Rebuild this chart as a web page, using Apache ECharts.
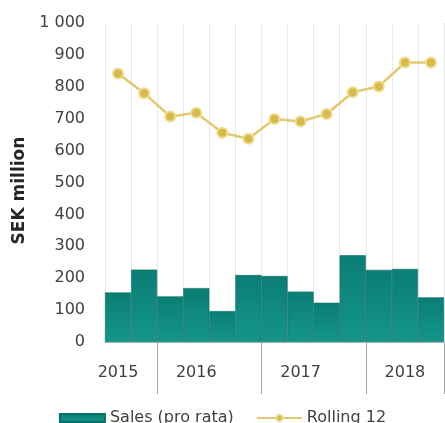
<!DOCTYPE html>
<html><head><meta charset="utf-8">
<script src="https://cdn.jsdelivr.net/npm/echarts@6/dist/echarts.min.js"></script>
<style>html,body{margin:0;padding:0;background:#fff}#c{width:445px;height:423px}</style>
</head><body><div id="c"></div>
<script>
var xTickLabels = ['2015','','','2016','','','','2017','','','','2018',''];
var salesProRata = [155, 227, 143, 169, 97, 210, 207, 158, 123, 272, 226, 229, 140];
var rolling12 = [842, 780, 707, 719, 656, 637, 699, 691, 715, 783, 801, 876, 876];
var yearStartIdx = [2, 6, 10];
var yTicks = {min: 0, max: 1000, interval: 100};

var chart = echarts.init(document.getElementById('c'));
var font = 'DejaVu Sans';
chart.setOption({
  animation: false,
  textStyle: {fontFamily: font},
  grid: {left: 105, right: 1, top: 23, bottom: 81},
  legend: {
    top: 405, left: 'center', itemWidth: 45, itemHeight: 8, itemGap: 22,
    textStyle: {fontFamily: font, fontSize: 16, color: '#404040'},
    data: [
      {name: 'Sales (pro rata)', icon: 'rect'},
      {name: 'Rolling 12'}
    ]
  },
  xAxis: {
    type: 'category', data: xTickLabels, boundaryGap: true,
    axisLine: {show: true, lineStyle: {color: '#bfbfbf'}},
    axisTick: {show: true, length: 52, lineStyle: {color: '#a6a6a6'},
      interval: function (i) { return yearStartIdx.indexOf(i) >= 0; }},
    axisLabel: {interval: 0, margin: 23, fontFamily: font, fontSize: 16, color: '#404040'},
    splitLine: {show: true, interval: 0, lineStyle: {color: '#e8e8e8'}}
  },
  yAxis: {
    type: 'value', min: yTicks.min, max: yTicks.max, interval: yTicks.interval,
    name: 'SEK million', nameLocation: 'middle', nameGap: 76, nameRotate: 90,
    nameTextStyle: {fontFamily: font, fontSize: 17, fontWeight: 'bold', color: '#262626', padding: [0, 16, 0, 0]},
    axisLine: {show: false}, axisTick: {show: false}, splitLine: {show: false},
    axisLabel: {margin: 20, fontFamily: font, fontSize: 16, color: '#404040',
      formatter: function (v) { return v >= 1000 ? String(v).replace(/\B(?=(\d{3})+(?!\d))/g, ' ') : String(v); }}
  },
  series: [
    {
      name: 'Sales (pro rata)', type: 'bar', data: salesProRata, barCategoryGap: '0%',
      itemStyle: {
        color: new echarts.graphic.LinearGradient(0, 0, 0, 1, [
          {offset: 0, color: '#0b7d74'}, {offset: 1, color: '#14968a'}]),
        borderColor: '#0a6f67', borderWidth: 0.6
      }
    },
    {
      name: 'Rolling 12', type: 'line', data: rolling12, symbol: 'circle', symbolSize: 10,
      lineStyle: {color: '#e2c970', width: 2.5},
      itemStyle: {color: '#d6ba4c', borderColor: '#efdc8e', borderWidth: 2}
    }
  ]
});
</script></body></html>
